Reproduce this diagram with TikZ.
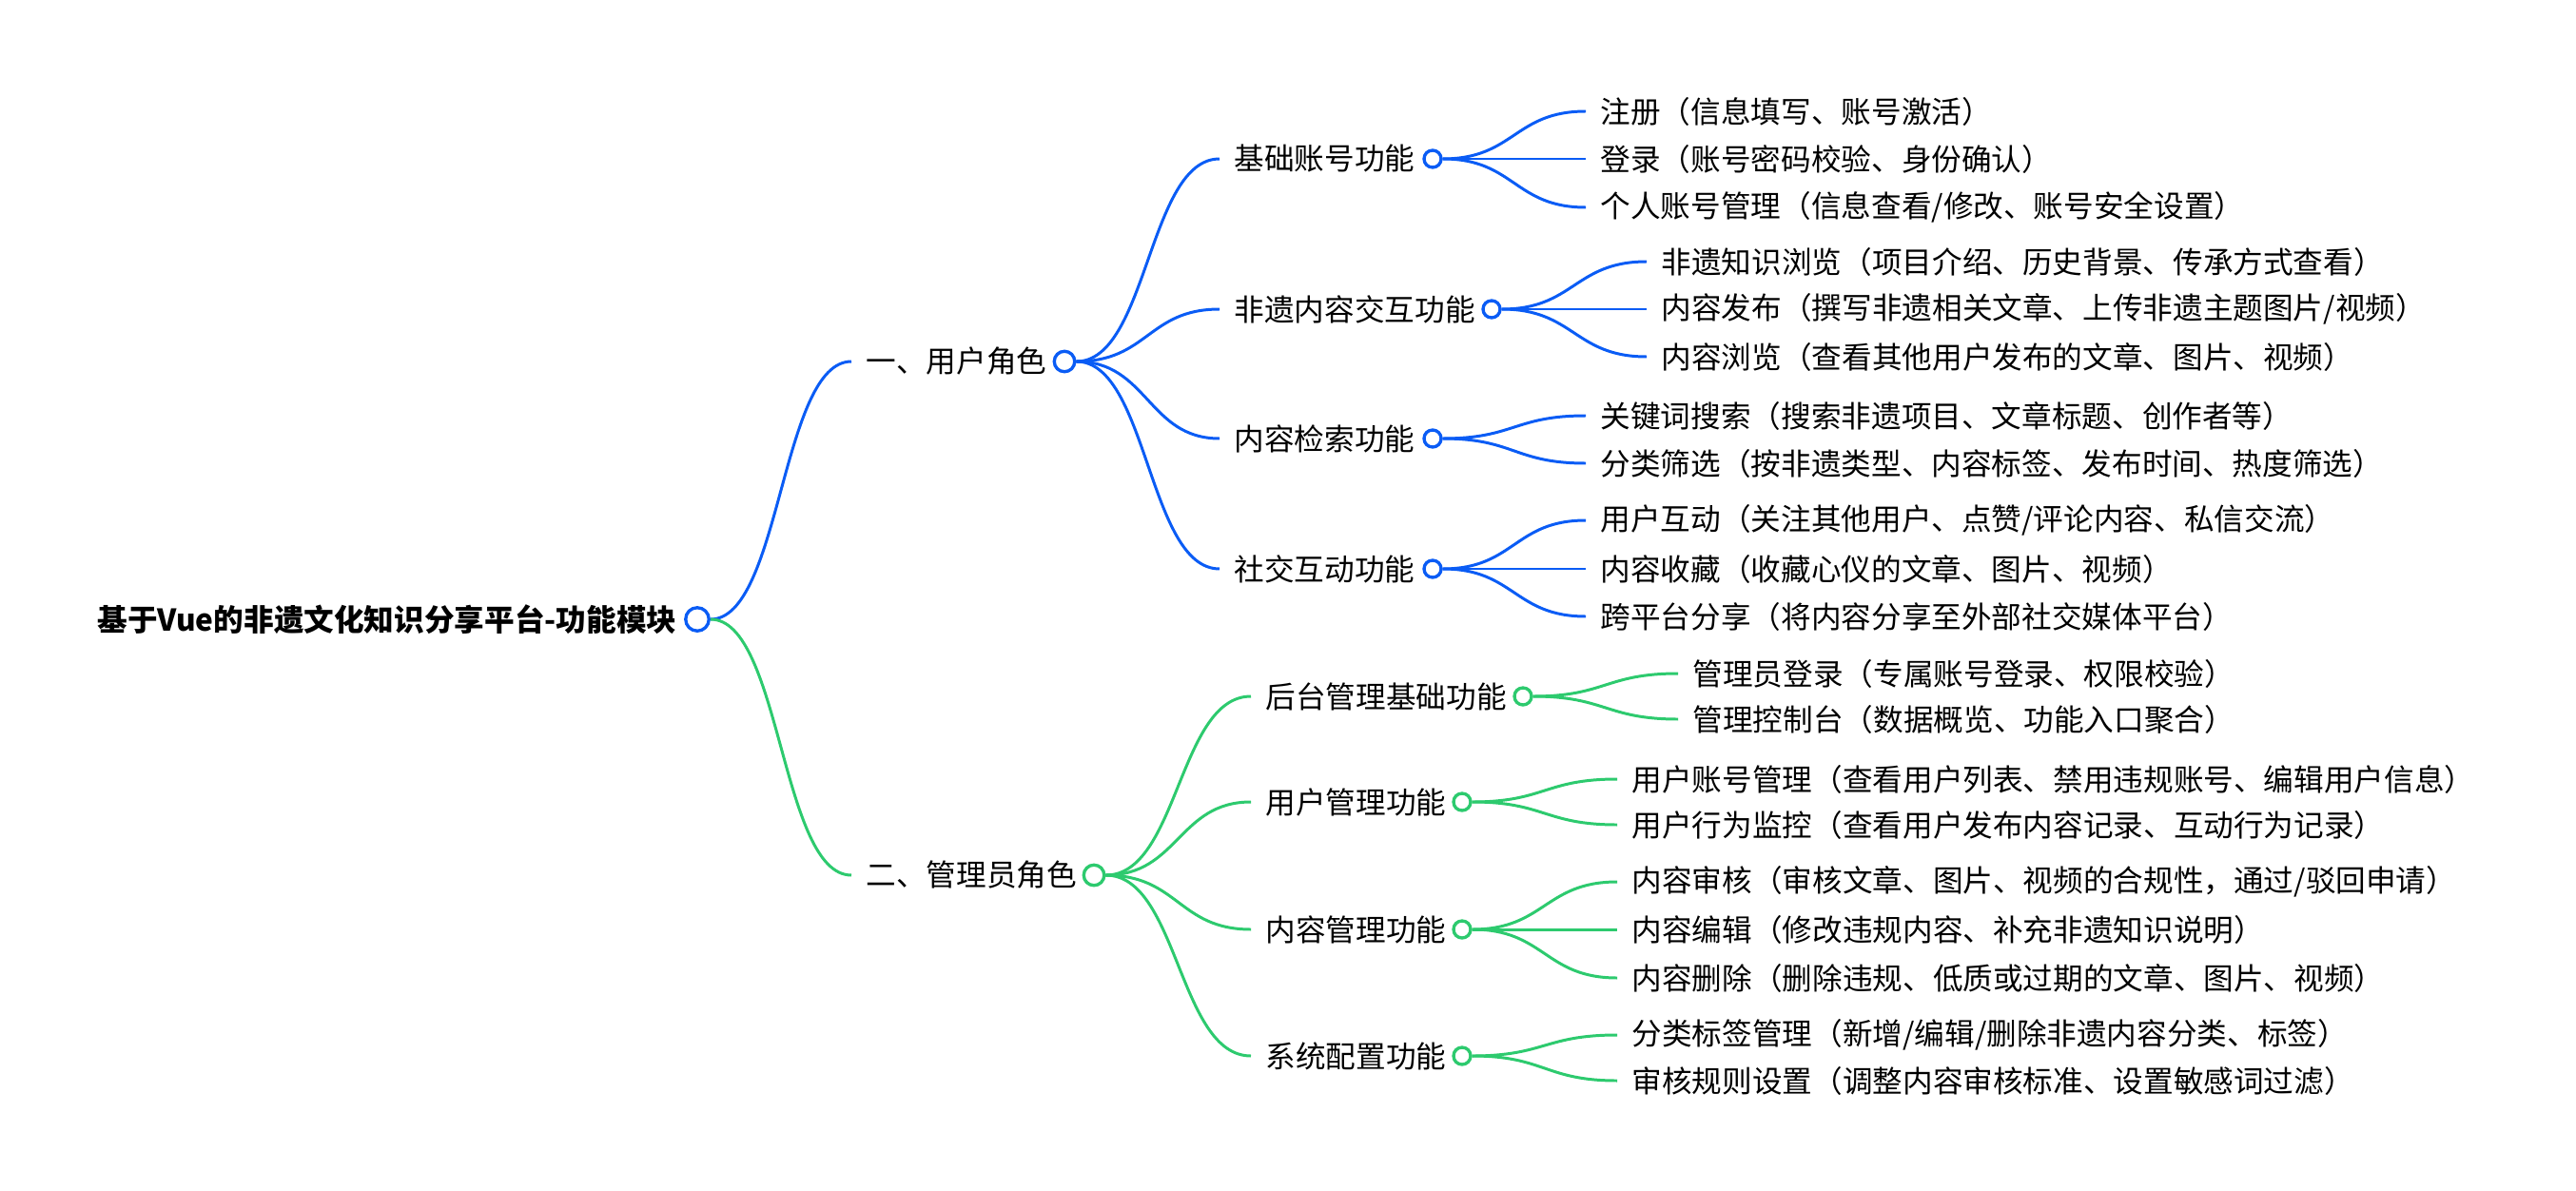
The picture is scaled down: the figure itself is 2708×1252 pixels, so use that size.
\documentclass[tikz,border=0pt]{standalone}
\usepackage{fontspec}
\setmainfont{Noto Sans CJK SC}
\usepackage{tikz}
\usetikzlibrary{calc}
\definecolor{userblue}{HTML}{0A5CF5}
\definecolor{admingreen}{HTML}{2DCA6E}

\begin{document}
\begin{tikzpicture}[
  x=0.1mm, y=-0.1mm,
  every node/.style={font=\fontsize{9pt}{11pt}\selectfont},
  item/.style={anchor=west, inner xsep=1.5mm, inner ysep=0pt},
  title/.style={anchor=east, inner sep=0pt, font=\fontsize{9pt}{11pt}\selectfont\bfseries},
  dot/.style={circle, draw=#1, fill=white, line width=0.95pt, inner sep=0pt},
  bigdot/.style={dot=#1, minimum size=2.45mm},
  middot/.style={dot=#1, minimum size=2.15mm},
  smalldot/.style={dot=#1, minimum size=1.8mm},
  ub/.style={draw=userblue, line width=0.85pt},
  ag/.style={draw=admingreen, line width=0.85pt},
]
  \useasboundingbox (0,0) rectangle (2708,1252);

  % root
  \node[title] (root) at (712,651) {基于Vue的非遗文化知识分享平台-功能模块};
  \node[bigdot=userblue] (rootdot) at (733,651) {};

  % level 1
  \node[item] (user) at (895,380) {一、用户角色};
  \node[middot=userblue] (userdot) at (1119,380) {};
  \node[item] (admin) at (895,920) {二、管理员角色};
  \node[middot=admingreen] (admindot) at (1150,920) {};

  % user role
  \node[item] (basic) at (1282,167) {基础账号功能};
  \node[smalldot=userblue] (basicdot) at (1506,167) {};
  \node[item] (heritage) at (1282,325) {非遗内容交互功能};
  \node[smalldot=userblue] (heritagedot) at (1568,325) {};
  \node[item] (search) at (1282,461) {内容检索功能};
  \node[smalldot=userblue] (searchdot) at (1506,461) {};
  \node[item] (social) at (1282,598) {社交互动功能};
  \node[smalldot=userblue] (socialdot) at (1506,598) {};

  \node[item] (reg) at (1667,117) {注册（信息填写、账号激活）};
  \node[item] (login) at (1667,167) {登录（账号密码校验、身份确认）};
  \node[item] (profile) at (1667,218) {个人账号管理（信息查看/修改、账号安全设置）};
  \node[item] (browse) at (1731,275) {非遗知识浏览（项目介绍、历史背景、传承方式查看）};
  \node[item] (publish) at (1731,325) {内容发布（撰写非遗相关文章、上传非遗主题图片/视频）};
  \node[item] (view) at (1731,375) {内容浏览（查看其他用户发布的文章、图片、视频）};
  \node[item] (keyword) at (1667,437) {关键词搜索（搜索非遗项目、文章标题、创作者等）};
  \node[item] (filter) at (1667,487) {分类筛选（按非遗类型、内容标签、发布时间、热度筛选）};
  \node[item] (interact) at (1667,547) {用户互动（关注其他用户、点赞/评论内容、私信交流）};
  \node[item] (collect) at (1667,598) {内容收藏（收藏心仪的文章、图片、视频）};
  \node[item] (share) at (1667,648) {跨平台分享（将内容分享至外部社交媒体平台）};

  % admin role
  \node[item] (backend) at (1315,732) {后台管理基础功能};
  \node[smalldot=admingreen] (backenddot) at (1601,732) {};
  \node[item] (usermgmt) at (1315,843) {用户管理功能};
  \node[smalldot=admingreen] (usermgmtdot) at (1537,843) {};
  \node[item] (contentmgmt) at (1315,977) {内容管理功能};
  \node[smalldot=admingreen] (contentmgmtdot) at (1537,977) {};
  \node[item] (sysconf) at (1315,1110) {系统配置功能};
  \node[smalldot=admingreen] (sysconfdot) at (1537,1110) {};

  \node[item] (adminlogin) at (1764,708) {管理员登录（专属账号登录、权限校验）};
  \node[item] (console) at (1764,756) {管理控制台（数据概览、功能入口聚合）};
  \node[item] (account) at (1700,819) {用户账号管理（查看用户列表、禁用违规账号、编辑用户信息）};
  \node[item] (behavior) at (1700,867) {用户行为监控（查看用户发布内容记录、互动行为记录）};
  \node[item] (audit) at (1700,927) {内容审核（审核文章、图片、视频的合规性，通过/驳回申请）};
  \node[item] (edit) at (1700,977) {内容编辑（修改违规内容、补充非遗知识说明）};
  \node[item] (delete) at (1700,1028) {内容删除（删除违规、低质或过期的文章、图片、视频）};
  \node[item] (tagmgmt) at (1700,1088) {分类标签管理（新增/编辑/删除非遗内容分类、标签）};
  \node[item] (rules) at (1700,1136) {审核规则设置（调整内容审核标准、设置敏感词过滤）};

  % branches
  \foreach \a/\b in {rootdot/user, userdot/basic, userdot/heritage, userdot/search, userdot/social,
      basicdot/reg, basicdot/login, basicdot/profile, heritagedot/browse, heritagedot/publish, heritagedot/view,
      searchdot/keyword, searchdot/filter, socialdot/interact, socialdot/collect, socialdot/share}
    \draw[ub] let \p1=(\a.east), \p2=(\b.west) in
      (\p1) .. controls (\x1/2+\x2/2,\y1) and (\x1/2+\x2/2,\y2) .. (\p2);
  \foreach \a/\b in {rootdot/admin, admindot/backend, admindot/usermgmt, admindot/contentmgmt, admindot/sysconf,
      backenddot/adminlogin, backenddot/console, usermgmtdot/account, usermgmtdot/behavior,
      contentmgmtdot/audit, contentmgmtdot/edit, contentmgmtdot/delete, sysconfdot/tagmgmt, sysconfdot/rules}
    \draw[ag] let \p1=(\a.east), \p2=(\b.west) in
      (\p1) .. controls (\x1/2+\x2/2,\y1) and (\x1/2+\x2/2,\y2) .. (\p2);

\end{tikzpicture}
\end{document}
